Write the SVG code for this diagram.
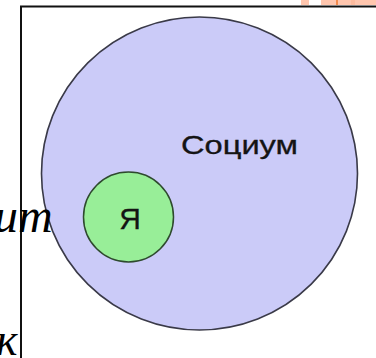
<svg xmlns="http://www.w3.org/2000/svg" width="376" height="358" viewBox="0 0 376 358">
<style>
.label{font-family:"Liberation Sans",Arial,sans-serif;fill:#141414;stroke:#141414;stroke-width:0.3}
.bg{font-family:"Liberation Serif","Times New Roman",serif;font-style:italic;fill:#000}
.strip{fill:#FFC6AE}
</style>
<rect x="0" y="0" width="376" height="358" fill="#fff"/>
<g id="top-strips">
<rect class="strip" x="301" y="0" width="8" height="5"/>
<rect class="strip" x="321" y="0" width="55" height="5"/>
<rect x="336" y="0" width="2" height="5" fill="#F28A4C"/>
<rect x="351" y="0" width="4" height="5" fill="#FDBB9E"/>
</g>
<g id="panel">
<rect x="21" y="6.5" width="370" height="370" fill="#fff" stroke="#111" stroke-width="2"/>
</g>
<g id="socium">
<ellipse cx="199.5" cy="173.5" rx="158" ry="156.5" fill="#CBCBF8" stroke="#3a3a48" stroke-width="1.6"/>
<text class="label" x="181" y="154" font-size="25" textLength="117" lengthAdjust="spacingAndGlyphs">Социум</text>
</g>
<g id="ya">
<circle cx="128.5" cy="217" r="45" fill="#98EE98" stroke="#2e4a2e" stroke-width="1.5"/>
<text class="label" x="130" y="228.5" font-size="30" text-anchor="middle">Я</text>
</g>
<g id="background-text">
<text class="bg" x="-6" y="232" font-size="48">ит</text>
<text class="bg" x="-4" y="355" font-size="46">к</text>
</g>
</svg>
